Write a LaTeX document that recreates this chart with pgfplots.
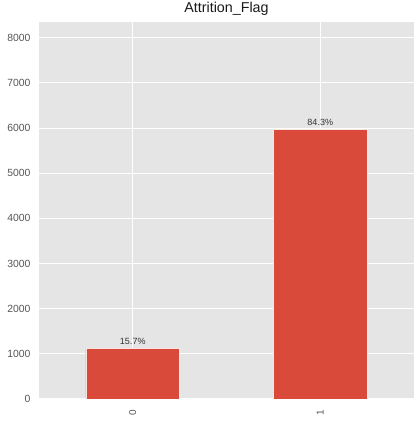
\documentclass[border=0pt]{standalone}
\usepackage{fontspec}
\setmainfont{Liberation Sans}
\usepackage{pgfplots}
\pgfplotsset{compat=1.18}
\definecolor{bg}{HTML}{E5E5E5}
\definecolor{barc}{HTML}{D94A3A}
\definecolor{tickc}{HTML}{555555}
\begin{document}
\begin{tikzpicture}
\begin{axis}[
  at={(0,0)}, anchor=south west,
  scale only axis, width=375pt, height=377pt,
  axis background/.style={fill=bg},
  axis line style={draw=none},
  xmin=-0.5, xmax=1.5, ymin=0, ymax=8348,
  xtick={0,1}, xticklabels={0,1},
  ytick={0,1000,2000,3000,4000,5000,6000,7000,8000},
  scaled y ticks=false,
  yticklabel style={/pgf/number format/1000 sep={}},
  /pgf/number format/assume math mode=true,
  x tick label style={rotate=90, anchor=east, font=\fontsize{10}{12}\selectfont, text=tickc},
  y tick label style={font=\fontsize{10.4}{12}\selectfont, text=tickc},
  xticklabel shift=7pt,
  yticklabel shift=5pt,
  major tick length=0pt,
  grid=major, major grid style={white, line width=1pt},
  title={Attrition\_Flag},
  title style={font=\fontsize{14.3}{16}\selectfont, at={(0.5,1)}, anchor=base, yshift=3pt, text=black!90},
  ybar, bar width=0.5,
  nodes near coords,
  point meta=explicit symbolic,
  every node near coord/.append style={font=\fontsize{9}{10}\selectfont, text=black!80, anchor=base, yshift=4.5pt},
]
\addplot[fill=barc, draw=white!85!barc, line width=0.6pt] coordinates {(0,1113)[15.7\%] (1,5962)[84.3\%]};
\end{axis}
\pgfresetboundingbox
\path[use as bounding box] (-39pt,-23pt) rectangle (379pt,399pt);
\end{tikzpicture}
\end{document}
